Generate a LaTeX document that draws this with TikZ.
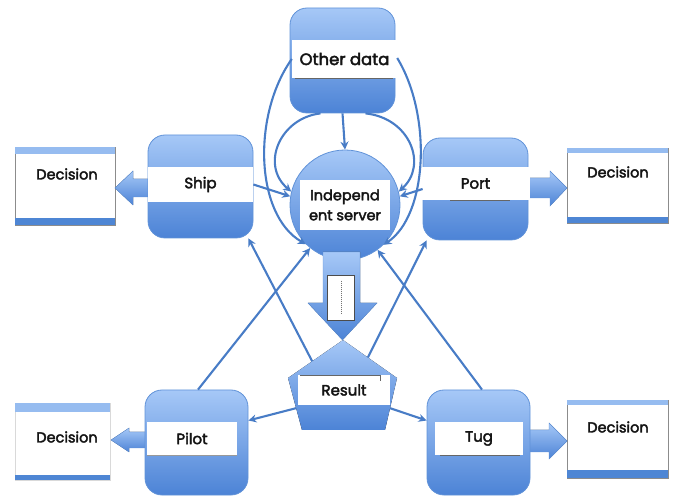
\documentclass[tikz,border=0pt]{standalone}
\usepackage{fontspec}
\setmainfont{Poppins}[BoldFont={Poppins}, BoldFeatures={FakeBold=2.6}]
\usetikzlibrary{arrows.meta,calc}
\definecolor{boxtop}{RGB}{166,200,247}
\definecolor{boxbot}{RGB}{76,131,214}
\definecolor{boxedge}{RGB}{96,146,216}
\definecolor{linec}{RGB}{72,124,198}
\definecolor{striptop}{RGB}{150,188,240}
\definecolor{stripbot}{RGB}{78,134,212}
\begin{document}
\begin{tikzpicture}[x=1pt,y=-1pt,
  infobox/.style={draw=boxedge, line width=0.8pt, rounded corners=17pt,
    top color=boxtop, bottom color=boxbot, inner sep=0pt},
  band/.style={fill=white, inner sep=0pt, text=black!92,
    font=\fontsize{15}{17}\selectfont\bfseries},
  decbox/.style={draw=black!45, line width=0.6pt, fill=white, inner sep=0pt},
  dectext/.style={inner sep=0pt, text=black!92, font=\fontsize{14.5}{16}\selectfont\bfseries},
  link/.style={draw=linec, line width=2.1pt, -{Stealth[length=8pt,width=8pt]}},
  blockfill/.style={top color=boxtop, bottom color=boxbot, draw=boxedge, line width=0.4pt},
  shadowline/.style={draw=black!60, line width=0.9pt}
]
\useasboundingbox (0,0) rectangle (673,497);

% ---- decision boxes ----
\node[decbox, minimum width=100pt, minimum height=78pt] (decL1) at (65,186) {};
\node[decbox, minimum width=101pt, minimum height=75pt] (decR1) at (617.5,185.5) {};
\node[decbox, draw=black!15, minimum width=95pt, minimum height=77pt] (decL2) at (62.5,441.5) {};
\node[decbox, minimum width=101pt, minimum height=78pt] (decR2) at (617.5,439) {};
\foreach \d/\t/\b in {decL1/7/7, decR1/5/6, decL2/9/5, decR2/5/8}{
  \fill[striptop] (\d.north west) rectangle ([yshift=-\t pt]\d.north east);
  \fill[stripbot] ([yshift=\b pt]\d.south west) rectangle (\d.south east);
}
\node[dectext] (decL1t) at (67,174) {Decision};
\node[dectext] (decR1t) at (618,172) {Decision};
\node[dectext] (decL2t) at (67,437) {Decision};
\node[dectext] (decR2t) at (618,427) {Decision};

% ---- block arrows towards the decisions ----
\fill[blockfill] (148,179) -- (133,179) -- (133,171) -- (115,188) -- (133,205) -- (133,197) -- (148,197) -- cycle;
\fill[blockfill] (528,178) -- (550,178) -- (550,171) -- (567,188) -- (550,206) -- (550,198) -- (528,198) -- cycle;
\fill[blockfill] (147,432) -- (129,432) -- (129,428) -- (111,440) -- (129,452) -- (129,448) -- (147,448) -- cycle;
\fill[blockfill] (523,430) -- (549,430) -- (549,423) -- (567,441) -- (549,459) -- (549,452) -- (523,452) -- cycle;

% ---- actors ----
\node[infobox, minimum width=105pt, minimum height=105pt] (other) at (342.5,60.5) {};
\node[infobox, minimum width=105pt, minimum height=103pt] (ship) at (200.5,186.5) {};
\node[infobox, minimum width=105pt, minimum height=102pt] (port) at (475.5,189) {};
\node[infobox, minimum width=103pt, minimum height=105pt] (pilot) at (196.5,442.5) {};
\node[infobox, minimum width=103pt, minimum height=105pt] (tug) at (478.5,442.5) {};
\node[circle, draw=boxedge, line width=0.8pt, top color=boxtop, bottom color=boxbot,
  minimum size=110pt, inner sep=0pt] (server) at (345,205) {};

% ---- flow from the server to the result ----
\fill[blockfill] (323,252) -- (360,252) -- (360,303) -- (377,303) -- (342.5,340)
  -- (308,303) -- (323,303) -- cycle;
\node[draw=black!70, line width=0.6pt, fill=white, minimum width=27pt,
  minimum height=45pt, inner sep=0pt] (note) at (341,297.5) {};
\draw[black!55, line width=0.8pt, dash pattern=on 1pt off 1pt]
  ([yshift=-6pt]note.north) -- ([yshift=6pt]note.south);

\coordinate (resapex) at (343,340);
\coordinate (resright) at (397,378);
\coordinate (resbr) at (385,430);
\coordinate (resbl) at (302,430);
\coordinate (resleft) at (288,378);
\fill[top color=boxtop, bottom color=boxbot] (resapex) -- (resright) -- (resbr)
  -- (resbl) -- (resleft) -- cycle;

% ---- labels on white bands ----
\node[band, minimum width=105pt, minimum height=38pt,
  font=\fontsize{16.5}{18}\selectfont\bfseries] (otherlbl) at (344.5,59) {Other data};
\draw[shadowline] ([xshift=3pt]otherlbl.south west) -- ([xshift=-4pt]otherlbl.south east);
\node[band, minimum width=105pt, minimum height=35pt] (shiplbl) at (200.5,184.5) {Ship};
\node[band, minimum width=117pt, minimum height=33pt] (portlbl) at (471.5,183.5) {\hspace*{8pt}Port};
\draw[shadowline] (450,200) -- (510,200);
\node[band, minimum width=90pt, minimum height=50pt, align=center,
  font=\fontsize{14.5}{20}\selectfont\bfseries] (serverlbl) at (345,205) {Independ\\ent server};
\node[band, minimum width=92pt, minimum height=30pt] (resultlbl) at (344,390) {Result};
\draw[shadowline] (300,375) -- (380,375) -- (380,381);
\node[band, minimum width=90pt, minimum height=33pt] (pilotlbl) at (192,438.5) {Pilot};
\draw[shadowline, black!40] (pilotlbl.south west) -- (pilotlbl.south east);
\node[band, minimum width=88pt, minimum height=33pt] (tuglbl) at (479,438.5) {Tug};
\draw[shadowline] (440,455) -- (520,455);

% ---- other data feeding the server ----
\draw[link] (other.south) -- (server.north);
\draw[link] ([xshift=-22pt]other.south) .. controls (280,118) and (260,165) .. (server.166);
\draw[link] ([xshift=23pt]other.south) .. controls (410,118) and (428,165) .. (server.14);
\draw[link] (otherlbl.west) .. controls (252,115) and (255,215) .. (server.225);
\draw[link] ([yshift=1pt]otherlbl.east) .. controls (432,115) and (428,215) .. (server.-46);

% ---- actors and the server ----
\draw[link] ([yshift=2pt]ship.east) -- (server.171);
\draw[link] (port.west) -- (server.9);
\draw[link] ([xshift=1.5pt]pilot.north) -- (server.231);
\draw[link] ([xshift=3.5pt]tug.north) -- (server.-54);

% ---- result back to the actors ----
\draw[link] ($(resapex)!0.56!(resleft)$) -- ([xshift=-5pt]ship.south east);
\draw[link] ($(resapex)!0.46!(resright)$) -- ([xshift=4pt]port.south west);
\draw[link] ($(resleft)!0.58!(resbl)$) -- ([yshift=22pt]pilot.east);
\draw[link] ($(resright)!0.58!(resbr)$) -- ([yshift=22pt]tug.west);
\end{tikzpicture}
\end{document}
